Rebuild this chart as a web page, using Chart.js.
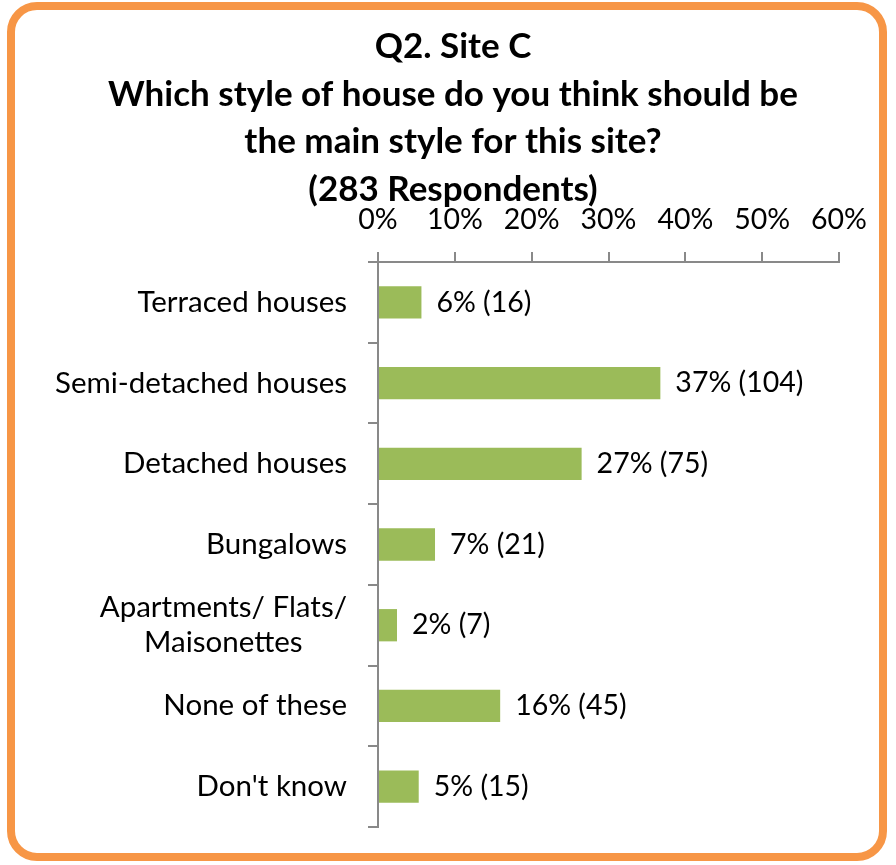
<!DOCTYPE html>
<html>
<head>
<meta charset="utf-8">
<script src="https://cdn.jsdelivr.net/npm/chart.js@4.4.0/dist/chart.umd.min.js"></script>
<style>
  html, body { margin: 0; padding: 0; background: #ffffff; }
  #frame {
    position: absolute; left: 7px; top: 2px; width: 880px; height: 859px;
    box-sizing: border-box; border: 8px solid #F79646; border-radius: 30px;
  }
  #wrap { position: absolute; left: 0; top: 0; width: 896px; height: 865px; overflow: hidden; }
</style>
</head>
<body>
<div id="frame"></div>
<div id="wrap"><canvas id="c" width="906" height="865"></canvas></div>
<script>
// Survey question Q2, Site C: preferred main house style
const titleLines = [
  'Q2. Site C',
  'Which style of house do you think should be',
  'the main style for this site?',
  '(283 Respondents)'
];
const categories = [
  ['Terraced houses'],
  ['Semi-detached houses'],
  ['Detached houses'],
  ['Bungalows'],
  ['Apartments/ Flats/', 'Maisonettes'],
  ['None of these'],
  ["Don't know"]
];
const counts = [16, 104, 75, 21, 7, 45, 15];
const totalRespondents = 283;
const tickValues = [0, 10, 20, 30, 40, 50, 60];

// share of respondents for each answer, in percent
const shares = counts.map(c => c / totalRespondents * 100);

const AXIS_COLOR = '#898989';
const BAR_COLOR = '#9BBB59';
const FONT = 'Lato';
const CAT_SIZE = 29.5;
const VALUE_SIZE = 28.5;
const TICK_SIZE = 28.5;

// value labels at the end of each bar: "37% (104)"
const valueLabels = {
  id: 'valueLabels',
  afterDatasetsDraw(chart) {
    const ctx = chart.ctx;
    const meta = chart.getDatasetMeta(0);
    ctx.save();
    ctx.font = VALUE_SIZE + 'px ' + FONT;
    ctx.fillStyle = '#000';
    ctx.textAlign = 'left';
    ctx.textBaseline = 'middle';
    meta.data.forEach((bar, i) => {
      const txt = Math.round(shares[i]) + '% (' + counts[i] + ')';
      ctx.fillText(txt, bar.x + 15, bar.y);
    });
    ctx.restore();
  }
};

// category names left of the axis; wrapped names keep their lines centred
const categoryLabels = {
  id: 'categoryLabels',
  afterDraw(chart) {
    const ctx = chart.ctx;
    const yScale = chart.scales.y;
    const right = chart.chartArea.left - 31;
    const lineGap = 35;
    ctx.save();
    ctx.font = CAT_SIZE + 'px ' + FONT;
    ctx.fillStyle = '#000';
    ctx.textAlign = 'center';
    ctx.textBaseline = 'middle';
    categories.forEach((lines, i) => {
      const yc = yScale.getPixelForValue(i);
      const w = Math.max(...lines.map(l => ctx.measureText(l).width));
      const xc = right - w / 2;
      lines.forEach((l, j) => {
        ctx.fillText(l, xc, yc + (j - (lines.length - 1) / 2) * lineGap);
      });
    });
    ctx.restore();
  }
};

const TITLE_PAD_TOP = 23;
const TITLE_PAD_BOTTOM = -12;
const TITLE_LINE = 47.5;
const TITLE_SIZE = 35;
const titleBottom = TITLE_PAD_TOP + titleLines.length * TITLE_LINE + TITLE_PAD_BOTTOM;

new Chart(document.getElementById('c'), {
  type: 'bar',
  data: {
    labels: categories.map(l => l.join(' ')),
    datasets: [{
      data: shares,
      backgroundColor: BAR_COLOR,
      borderWidth: 0,
      barPercentage: 0.4,
      categoryPercentage: 1
    }]
  },
  options: {
    indexAxis: 'y',
    responsive: false,
    animation: false,
    events: [],
    layout: { padding: { left: 67, right: 67, top: 0, bottom: 38 } },
    plugins: {
      legend: { display: false },
      tooltip: { enabled: false },
      title: {
        display: true,
        text: titleLines,
        color: '#000',
        font: { family: FONT, size: TITLE_SIZE, weight: 'bold', lineHeight: TITLE_LINE / TITLE_SIZE },
        padding: { top: TITLE_PAD_TOP, bottom: TITLE_PAD_BOTTOM }
      }
    },
    scales: {
      x: {
        position: 'top',
        min: 0,
        max: 60,
        afterBuildTicks: s => { s.ticks = tickValues.map(v => ({ value: v })); },
        ticks: {
          callback: v => v + '%',
          color: '#000',
          font: { family: FONT, size: TICK_SIZE },
          padding: 15,
          maxRotation: 0,
          autoSkip: false
        },
        grid: { drawOnChartArea: false, tickLength: 10, color: AXIS_COLOR, lineWidth: 2 },
        border: { color: AXIS_COLOR, width: 2 },
        afterFit: s => { s.height = 262 - titleBottom; }
      },
      y: {
        ticks: { display: false },
        grid: { drawOnChartArea: false, offset: true, tickLength: 10, color: AXIS_COLOR, lineWidth: 2 },
        border: { color: AXIS_COLOR, width: 2 },
        afterFit: s => { s.width = 311; }
      }
    }
  },
  plugins: [valueLabels, categoryLabels]
});
</script>
</body>
</html>
